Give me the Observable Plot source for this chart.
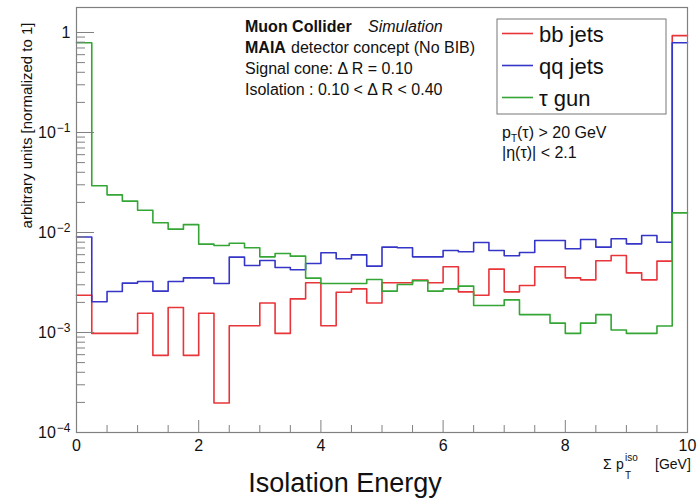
<!DOCTYPE html>
<html><head><meta charset="utf-8">
<script src="https://cdn.jsdelivr.net/npm/d3@7"></script>
<script src="https://cdn.jsdelivr.net/npm/@observablehq/plot@0.6"></script>
<style>
body{margin:0;background:#fff;}
#chart{width:697px;height:501px;}
</style></head><body><div id="chart"></div>
<script>
// bin edges of the histogram (41 edges, 40 bins)
const binEdges = [0,0.25,0.5,0.75,1,1.25,1.5,1.75,2,2.25,2.5,2.75,3,3.25,3.5,3.75,4,4.25,4.5,4.75,5,5.25,5.5,5.75,6,6.25,6.5,6.75,7,7.25,7.5,7.75,8,8.25,8.5,8.75,9,9.25,9.5,9.75,10];
const bbJets = [0.00236,0.00098,0.00098,0.00098,0.00156,0.00059,0.00178,0.00059,0.00156,0.000197,
  0.00117,0.00117,0.00197,0.00098,0.00217,0.00314,0.00117,0.00253,0.00273,0.00197,
  0.00314,0.00314,0.00334,0.00314,0.00454,0.00255,0.00236,0.0043,0.00255,0.00295,
  0.00454,0.00454,0.00352,0.00336,0.00521,0.00589,0.00395,0.00336,0.00517,0.93];
const qqJets = [0.0090,0.00203,0.00257,0.00312,0.00324,0.00259,0.00324,0.00352,0.00352,0.00309,
  0.00567,0.00468,0.00525,0.00447,0.00424,0.0049,0.00627,0.00546,0.00598,0.00461,
  0.00714,0.00703,0.00571,0.00571,0.00661,0.00641,0.00794,0.00661,0.00585,0.0063,
  0.00832,0.00832,0.00687,0.00851,0.00714,0.00865,0.0077,0.00934,0.0080,0.79];
const tauGun = [0.79,0.0293,0.0238,0.0206,0.0167,0.0125,0.0108,0.0120,0.00765,0.0074,
  0.0078,0.00703,0.00571,0.00616,0.0058,0.0035,0.00309,0.00309,0.00309,0.00339,
  0.00259,0.00302,0.00329,0.00259,0.00273,0.00291,0.00186,0.00186,0.00212,0.00151,
  0.00151,0.00124,0.00098,0.00124,0.00151,0.00106,0.00098,0.00098,0.00116,0.0157];
const seriesNames = ["bb jets", "qq jets", "τ gun"];
const seriesColors = ["#e8353a", "#3535c8", "#35a535"];
const yMajorTicks = [1e-4, 1e-3, 1e-2, 1e-1, 1];
const yMajorLabels = ["10^−4", "10^−3", "10^−2", "10^−1", "1"];
const yMinorTicks = [2e-4,3e-4,4e-4,5e-4,6e-4,7e-4,8e-4,9e-4,2e-3,3e-3,4e-3,5e-3,6e-3,7e-3,8e-3,9e-3,
  2e-2,3e-2,4e-2,5e-2,6e-2,7e-2,8e-2,9e-2,0.2,0.3,0.4,0.5,0.6,0.7,0.8,0.9];
const xMajorTicks = [0, 2, 4, 6, 8, 10];
const xMinorTicks = [0.5,1,1.5,2.5,3,3.5,4.5,5,5.5,6.5,7,7.5,8.5,9,9.5];
const yTitle = "arbitrary units [normalized to 1]";
const chartTitle = "Isolation Energy";

const seriesValues = [bbJets, qqJets, tauGun];
const rows = [];
seriesValues.forEach((vals, s) => {
  vals.forEach((v, i) => rows.push({x: binEdges[i], y: v, series: seriesNames[s]}));
  rows.push({x: binEdges[vals.length], y: vals[vals.length - 1], series: seriesNames[s]});
});

const FONT = "'Liberation Sans', Arial, Helvetica, sans-serif";
const axisGray = "#808080";

const plot = Plot.plot({
  width: 697, height: 501,
  marginLeft: 76, marginRight: 10, marginTop: 7, marginBottom: 69,
  style: {fontFamily: FONT, fontSize: "16px", background: "white", color: "#111"},
  x: {domain: [0, 10], label: null},
  y: {type: "log", domain: [1e-4, 1.778], label: null},
  color: {domain: seriesNames, range: seriesColors},
  marks: [
    Plot.line(rows, {x: "x", y: "y", z: "series", stroke: "series", curve: "step-after", strokeWidth: 1.6}),
    Plot.frame({stroke: axisGray, strokeWidth: 1.2}),
    Plot.axisY(yMinorTicks, {anchor: "left", tickSize: -9, tickFormat: () => "", stroke: axisGray, label: null}),
    Plot.axisY(yMajorTicks, {anchor: "left", tickSize: -18, tickFormat: () => "", stroke: axisGray, label: null}),
    Plot.axisY(yMajorTicks, {anchor: "left", tickSize: 0, tickPadding: 6, tickFormat: d => yMajorLabels[yMajorTicks.indexOf(d)], fill: "#111", fontSize: 16, label: null}),
    Plot.axisX(xMinorTicks, {anchor: "bottom", tickSize: -7, tickFormat: () => "", stroke: axisGray, label: null}),
    Plot.axisX(xMajorTicks, {anchor: "bottom", tickSize: -12, tickFormat: () => "", stroke: axisGray, label: null}),
    Plot.axisX(xMajorTicks, {anchor: "bottom", tickSize: 0, tickPadding: 7, tickFormat: d => String(d), fill: "#111", fontSize: 16, label: null}),
    Plot.text([yTitle], {frameAnchor: "top-left", text: d => d, rotate: -90, textAnchor: "end", dx: -55, dy: 15, fontSize: 15, fill: "#111"}),
    Plot.text([chartTitle], {frameAnchor: "bottom", text: d => d, dx: -37, dy: 59, fontSize: 27, fill: "#111"})
  ]
});
document.getElementById("chart").appendChild(plot);

const svg = d3.select(plot);

// superscript exponents on the y tick labels
svg.selectAll('g[aria-label="y-axis tick label"] text').each(function() {
  const s = this.textContent;
  const k = s.indexOf("^");
  if (k < 0) return;
  const el = d3.select(this);
  el.text(null);
  el.append("tspan").text(s.slice(0, k));
  el.append("tspan").attr("font-size", 12).attr("dy", -6).attr("dx", 1).text(s.slice(k + 1));
});

// Annotations (text, legend)
const g = svg.append("g").attr("font-family", FONT).attr("fill", "#111").attr("text-anchor", "start");

// Top-left text block
let t = g.append("text").attr("x", 245).attr("y", 32).attr("font-size", 16);
t.append("tspan").attr("font-weight", "bold").text("Muon Collider");
t.append("tspan").attr("x", 368).attr("font-style", "italic").text("Simulation");
t = g.append("text").attr("x", 245).attr("y", 53).attr("font-size", 16);
t.append("tspan").attr("font-weight", "bold").text("MAIA");
t.append("tspan").attr("x", 291).text("detector concept (No BIB)");
g.append("text").attr("x", 245).attr("y", 74).attr("font-size", 16).text("Signal cone: Δ R = 0.10");
g.append("text").attr("x", 245).attr("y", 95).attr("font-size", 16).text("Isolation : 0.10 < Δ R < 0.40");

// Legend
const lg = g.append("g");
lg.append("rect").attr("x", 497).attr("y", 19).attr("width", 169).attr("height", 95)
  .attr("fill", "white").attr("stroke", "#777").attr("stroke-width", 1);
const legendY = [33.5, 65.5, 97.5];
seriesNames.forEach((name, i) => {
  lg.append("line").attr("x1", 502).attr("x2", 533).attr("y1", legendY[i]).attr("y2", legendY[i])
    .attr("stroke", seriesColors[i]).attr("stroke-width", 1.6);
  lg.append("text").attr("x", 539).attr("y", legendY[i] + 8).attr("font-size", 22).text(name);
});

// Cuts text
t = g.append("text").attr("x", 502).attr("y", 138).attr("font-size", 16);
t.append("tspan").text("p");
t.append("tspan").attr("font-size", 10).attr("dy", 4).text("T");
t.append("tspan").attr("dy", -4).text("(τ) > 20 GeV");
g.append("text").attr("x", 502).attr("y", 158).attr("font-size", 16).text("|η(τ)| < 2.1");

// X axis title
t = g.append("text").attr("y", 469).attr("font-size", 14);
t.append("tspan").attr("x", 603).text("Σ");
t.append("tspan").attr("x", 616).text("p");
t.append("tspan").attr("x", 625).attr("font-size", 10).attr("dy", -8).text("iso");
t.append("tspan").attr("x", 625).attr("font-size", 10).attr("dy", 18).text("T");
t.append("tspan").attr("x", 655).attr("dy", -10).text("[GeV]");
</script></body></html>
